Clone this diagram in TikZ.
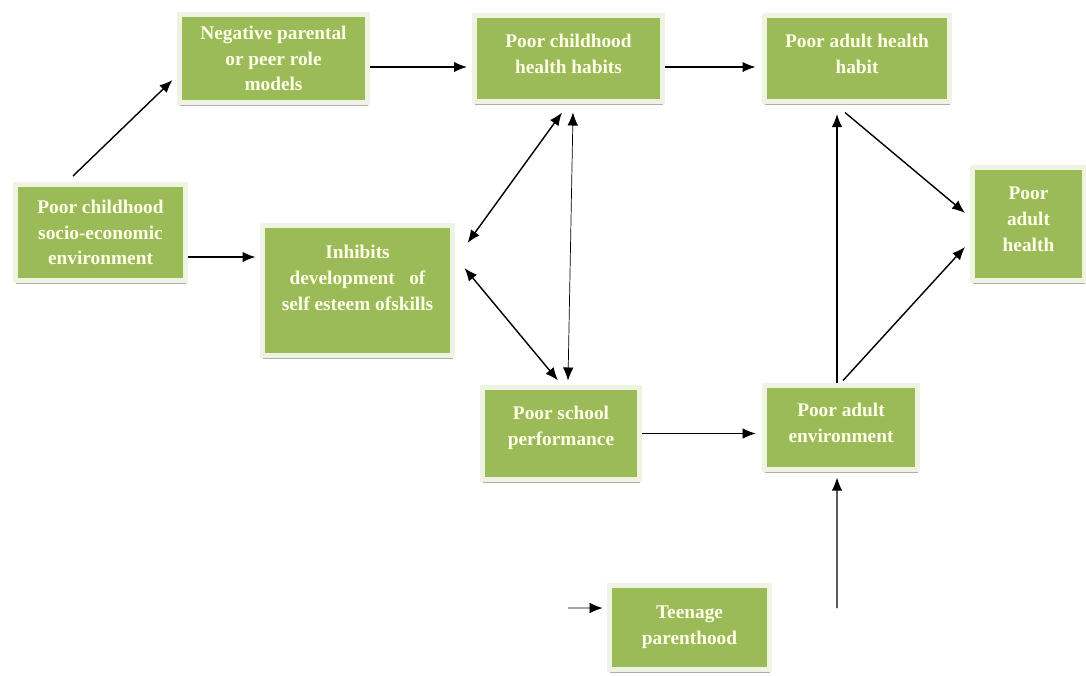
\documentclass[tikz,border=0pt]{standalone}
\usepackage{fontspec}
\setmainfont{Liberation Serif}
\usetikzlibrary{arrows.meta}
\usetikzlibrary{shadows}
\definecolor{boxgreen}{HTML}{9BBB59}
\definecolor{boxrim}{HTML}{EEF3E2}
\definecolor{boxtext}{HTML}{FFFFE8}

\begin{document}
\begin{tikzpicture}[
 box/.style={draw=boxrim,line width=0.1cm,fill=boxgreen,text=boxtext,align=center,inner sep=0pt,
  font=\bfseries\fontsize{11}{14.7}\selectfont,
  drop shadow={shadow xshift=0.5pt,shadow yshift=-1.8pt,fill=black!45,opacity=0.7}},
 arr/.style={-{Latex[length=2.6mm,width=2.1mm]},line width=0.8pt},
 darr/.style={{Latex[length=2.6mm,width=2.1mm]}-{Latex[length=2.6mm,width=2.1mm]},line width=0.8pt}]
 \useasboundingbox (0,0) rectangle (21.72,-13.5);
 \node[box,minimum width=3.76cm,minimum height=1.76cm] (neg) at (5.47,-1.17) {Negative parental\\or peer role\\models};
 \node[box,minimum width=3.76cm,minimum height=1.72cm] (chh) at (11.37,-1.17) {Poor childhood\\health habits\\[-9pt]~};
 \node[box,minimum width=3.70cm,minimum height=1.72cm] (ahh) at (17.14,-1.17) {Poor adult health\\habit\\[-9pt]~};
 \node[box,minimum width=2.24cm,minimum height=2.26cm] (adh) at (20.57,-4.48) {Poor\\adult\\health\\[-9pt]~};
 \node[box,minimum width=3.40cm,minimum height=1.92cm] (soc) at (2.01,-4.65) {Poor childhood\\socio-economic\\environment};
 \node[box,minimum width=3.80cm,minimum height=2.60cm] (inh) at (7.15,-5.81) {Inhibits\\development\ \ \ of\\self esteem ofskills\\~};
 \node[box,minimum width=3.14cm,minimum height=1.84cm] (sch) at (11.22,-8.67) {Poor school\\performance\\[-6pt]~};
 \node[box,minimum width=3.06cm,minimum height=1.68cm] (aen) at (16.82,-8.55) {Poor adult\\environment\\[-9pt]~};
 \node[box,minimum width=3.20cm,minimum height=1.68cm] (tnp) at (13.79,-12.55) {Teenage\\parenthood};
 \coordinate (envin) at (16.74,-12.16);
 \coordinate (teenin) at (11.36,-12.16);
 \draw[arr] ([xshift=-0.55cm,yshift=0.12cm]soc.north) -- ([xshift=-0.09cm,yshift=-0.43cm]neg.west);
 \draw[arr] ([yshift=-0.17cm]neg.east) -- ([xshift=-0.1cm,yshift=-0.17cm]chh.west);
 \draw[arr] ([yshift=-0.17cm]chh.east) -- ([xshift=-0.13cm,yshift=-0.17cm]ahh.west);
 \draw[arr] ([yshift=-0.49cm]soc.east) -- ([xshift=-0.09cm,yshift=0.67cm]inh.west);
 \draw[darr] ([xshift=-0.13cm,yshift=-0.17cm]chh.south) -- ([xshift=0.25cm,yshift=0.95cm]inh.east);
 \draw[darr] ([xshift=0.19cm,yshift=0.45cm]inh.east) -- ([xshift=-0.06cm,yshift=0.09cm]sch.north);
 \draw[darr,thin] ([xshift=0.09cm,yshift=-0.17cm]chh.south) -- ([xshift=0.14cm,yshift=0.09cm]sch.north);
 \draw[arr,thin] (sch.east) -- ([xshift=-0.13cm]sch.east -| aen.west);
 \draw[arr] ([xshift=-0.08cm]aen.north) -- ([xshift=-0.08cm,yshift=-0.2cm]aen.north |- ahh.south);
 \draw[arr] ([xshift=-0.24cm,yshift=-0.17cm]ahh.south) -- ([xshift=-0.1cm,yshift=0.22cm]adh.west);
 \draw[arr] ([xshift=0.04cm,yshift=0.05cm]aen.north) -- ([xshift=-0.1cm,yshift=-0.46cm]adh.west);
 \draw[arr] (envin) -- ([xshift=-0.08cm,yshift=-0.11cm]aen.south);
 \draw[arr,thin] (teenin) -- ([xshift=-0.09cm,yshift=0.39cm]tnp.west);
\end{tikzpicture}
\end{document}
